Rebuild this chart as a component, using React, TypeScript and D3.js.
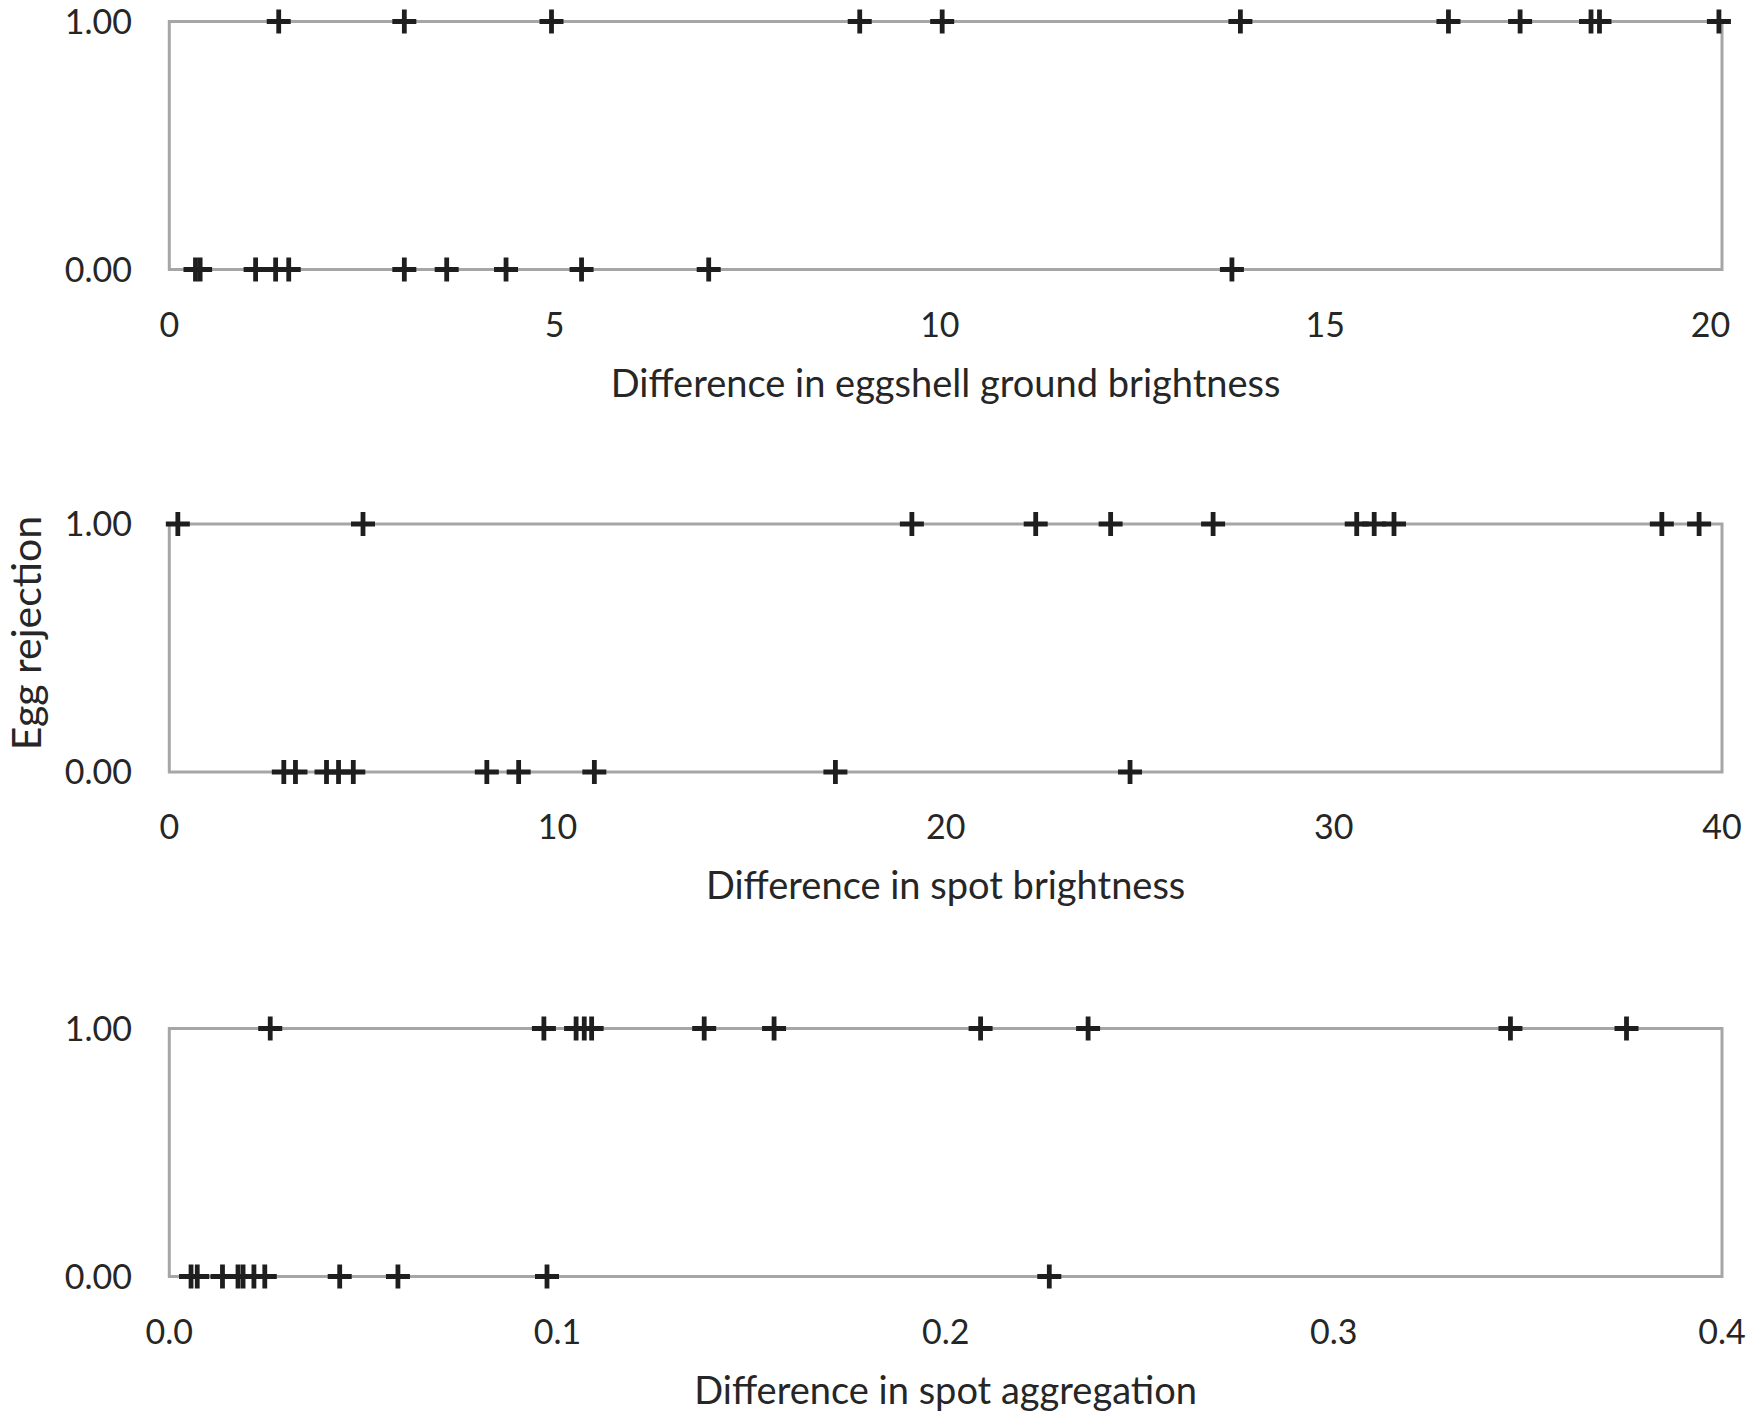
import React, { useRef, useEffect } from 'react';
import * as d3 from 'd3';

// Difference values, split by outcome (rejected = 1.00, accepted = 0.00)
const groundRejected = [1.42, 3.05, 4.96, 8.96, 10.03, 13.9, 16.6, 17.53, 18.45, 18.56, 20.11];
const groundAccepted = [0.34, 0.4, 1.12, 1.38, 1.55, 3.05, 3.6, 4.37, 5.35, 7.0, 13.79];

const spotRejected = [0.22, 4.99, 19.13, 22.32, 24.25, 26.89, 30.59, 31.04, 31.55, 38.45, 39.41];
const spotAccepted = [2.95, 3.25, 4.05, 4.36, 4.74, 8.18, 9.0, 10.95, 17.16, 24.75];

const aggRejected = [0.026, 0.0965, 0.1048, 0.1069, 0.1088, 0.1378, 0.1558, 0.209, 0.2367, 0.3455, 0.3754];
const aggAccepted = [0.0056, 0.0072, 0.0137, 0.0177, 0.019, 0.0218, 0.0246, 0.0439, 0.0589, 0.0973, 0.2267];

const groundTicks = [0, 5, 10, 15, 20];
const spotTicks = [0, 10, 20, 30, 40];
const aggTicks = [0, 0.1, 0.2, 0.3, 0.4];
const yTicks = [0, 1];

const panels = [
    { title: 'Difference in eggshell ground brightness', rejected: groundRejected, accepted: groundAccepted, ticks: groundTicks, max: 20.15, fmt: d3.format('d') },
    { title: 'Difference in spot brightness', rejected: spotRejected, accepted: spotAccepted, ticks: spotTicks, max: 40, fmt: d3.format('d') },
    { title: 'Difference in spot aggregation', rejected: aggRejected, accepted: aggAccepted, ticks: aggTicks, max: 0.4, fmt: d3.format('.1f') },
];

const App: React.FC = () => {
    const svgRef = useRef<SVGSVGElement | null>(null);

    useEffect(() => {
        if (!svgRef.current) return;

        const width = 1750;
        const height = 1418;
        const left = 169.3;
        const right = 1722;
        const panelTops = [21.5, 524, 1028.5];
        const panelHeight = 248;
        const font = 'Lato, "Open Sans", sans-serif';
        const gray = '#a6a6a6';
        const ink = '#262626';

        const svg = d3.select(svgRef.current);
        svg.selectAll('*').remove();
        svg.attr('width', width).attr('height', height);

        panels.forEach((p, i) => {
            const top = panelTops[i];
            const x = d3.scaleLinear().domain([0, p.max]).range([left, right]);
            const y = d3.scaleLinear().domain([0, 1]).range([top + panelHeight, top]);
            const g = svg.append('g');

            // box
            g.append('rect')
                .attr('x', x(0))
                .attr('y', y(1))
                .attr('width', x(p.max) - x(0))
                .attr('height', y(0) - y(1))
                .attr('fill', 'none')
                .attr('stroke', gray)
                .attr('stroke-width', 3);

            // y tick labels
            g.selectAll('text.ytick')
                .data(yTicks)
                .join('text')
                .attr('class', 'ytick')
                .attr('x', 132)
                .attr('y', d => y(d) + 12)
                .attr('text-anchor', 'end')
                .attr('font-family', font)
                .attr('font-size', 34)
                .attr('fill', ink)
                .text(d => d3.format('.2f')(d));

            // x tick labels
            g.selectAll('text.xtick')
                .data(p.ticks)
                .join('text')
                .attr('class', 'xtick')
                .attr('x', d => x(d))
                .attr('y', y(0) + 67)
                .attr('text-anchor', 'middle')
                .attr('font-family', font)
                .attr('font-size', 34)
                .attr('fill', ink)
                .text(d => p.fmt(d));

            // axis title
            g.append('text')
                .attr('x', (left + right) / 2)
                .attr('y', y(0) + 127)
                .attr('text-anchor', 'middle')
                .attr('font-family', font)
                .attr('font-size', 38)
                .attr('fill', ink)
                .text(p.title);

            // plus markers
            const pts = [
                ...p.rejected.map(v => ({ v, r: 1 })),
                ...p.accepted.map(v => ({ v, r: 0 })),
            ];
            const s = 12;
            g.selectAll('path.pt')
                .data(pts)
                .join('path')
                .attr('class', 'pt')
                .attr('d', d => `M${x(d.v) - s},${y(d.r)}h${2 * s}M${x(d.v)},${y(d.r) - s}v${2 * s}`)
                .attr('stroke', '#1e1e1e')
                .attr('stroke-width', 4.8)
                .attr('fill', 'none');
        });

        svg.append('text')
            .attr('transform', 'translate(41,633) rotate(-90)')
            .attr('text-anchor', 'middle')
            .attr('font-family', font)
            .attr('font-size', 41)
            .attr('fill', ink)
            .text('Egg rejection');
    }, []);

    return (
        <svg
            ref={svgRef}
            style={{ position: 'absolute', left: 0, top: 0, background: '#fff' }}
        />
    );
};

export default App;
